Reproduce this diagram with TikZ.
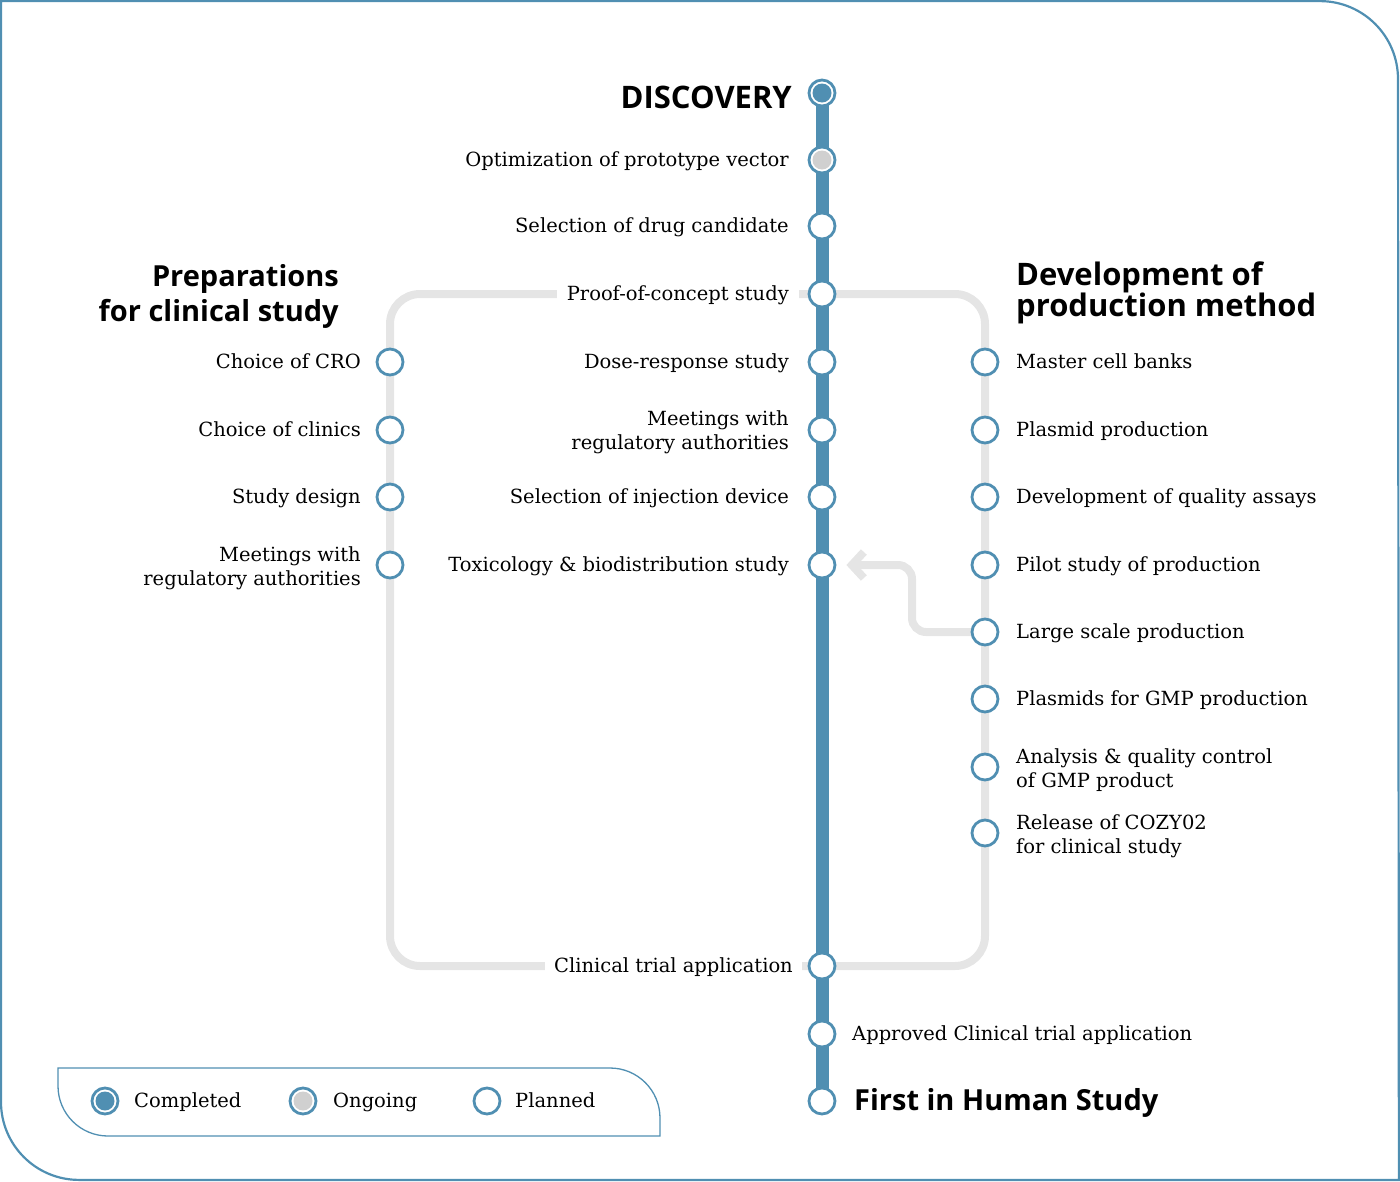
\documentclass[tikz,border=0pt]{standalone}
\usepackage{fontspec}
\setmainfont{DejaVu Serif}
\newfontfamily\hfont{Open Sans}
\usetikzlibrary{arrows.meta,backgrounds,calc}
\definecolor{cblue}{RGB}{80,143,178}
\definecolor{lgray}{RGB}{229,229,229}
\definecolor{ogray}{RGB}{208,208,208}
\begin{document}
\begin{tikzpicture}[x=1pt,y=-1pt,
  planned/.style={circle,draw=cblue,line width=2.8pt,fill=white,minimum size=26pt,inner sep=0pt},
  done/.style={planned,path picture={\fill[cblue] (path picture bounding box.center) circle (9.5pt);}},
  ongoing/.style={planned,path picture={\fill[ogray] (path picture bounding box.center) circle (9.5pt);}},
  lbl/.style={inner sep=0pt,font=\fontsize{19.5}{24}\selectfont},
  hd/.style={inner sep=0pt,font=\hfont\bfseries\fontsize{29}{35}\selectfont},
  gl/.style={draw=lgray,line width=8pt},
  bl/.style={draw=cblue,line width=13pt},
  frame/.style={draw=cblue,line width=2.2pt},
]
\useasboundingbox (0,0) rectangle (1400,1181);
\draw[frame] (1.1,1.1) -- (1320,1.1) arc[start angle=90,end angle=0,radius=78pt] -- (1398.9,1179.9) -- (79,1179.9) arc[start angle=270,end angle=180,radius=78pt] -- cycle;
% main line stops
\node[done] (d1) at (822,93) {};
\node[ongoing] (d2) at (822,160) {};
\node[planned] (d3) at (822,226) {};
\node[planned] (d4) at (822,294) {};
\node[planned] (d5) at (822,362) {};
\node[planned] (d6) at (822,430) {};
\node[planned] (d7) at (822,497) {};
\node[planned] (d8) at (822,565) {};
\node[planned] (d9) at (822,966) {};
\node[planned] (d10) at (822,1034) {};
\node[planned] (d11) at (822,1101) {};
% left stops
\node[planned] (l1) at (390,362) {};
\node[planned] (l2) at (390,430) {};
\node[planned] (l3) at (390,497) {};
\node[planned] (l4) at (390,565) {};
% right stops
\node[planned] (r1) at (985,362) {};
\node[planned] (r2) at (985,430) {};
\node[planned] (r3) at (985,497) {};
\node[planned] (r4) at (985,565) {};
\node[planned] (r5) at (985,632) {};
\node[planned] (r6) at (985,699) {};
\node[planned] (r7) at (985,767) {};
\node[planned] (r8) at (985,833) {};
% labels main
\node[hd,anchor=east,font=\hfont\bfseries\fontsize{31}{35}\selectfont] (t1) at (792,97) {DISCOVERY};
\node[lbl,anchor=mid east] (t2) at (789,164) {Optimization of prototype vector};
\node[lbl,anchor=mid east] (t3) at (789,230) {Selection of drug candidate};
\node[lbl,anchor=mid east,fill=white,inner xsep=10pt] (t4) at (799,298) {Proof-of-concept study};
\node[lbl,anchor=mid east] (t5) at (789,366) {Dose-response study};
\node[lbl,anchor=east,align=right] (t6) at (789,432) {Meetings with\\regulatory authorities};
\node[lbl,anchor=mid east] (t7) at (789,501) {Selection of injection device};
\node[lbl,anchor=mid east] (t8) at (789,569) {Toxicology \& biodistribution study};
\node[lbl,anchor=mid east,fill=white,inner xsep=9pt] (t9) at (802,970) {Clinical trial application};
\node[lbl,anchor=mid west] (t10) at (852,1038) {Approved Clinical trial application};
\node[hd,anchor=west] (t11) at (854,1103) {First in Human Study};
% labels left
\node[lbl,anchor=mid east] (u1) at (361,366) {Choice of CRO};
\node[lbl,anchor=mid east] (u2) at (361,434) {Choice of clinics};
\node[lbl,anchor=mid east] (u3) at (361,501) {Study design};
\node[lbl,anchor=east,align=right] (u4) at (361,568) {Meetings with\\regulatory authorities};
% labels right
\node[lbl,anchor=mid west] (v1) at (1016,366) {Master cell banks};
\node[lbl,anchor=mid west] (v2) at (1016,434) {Plasmid production};
\node[lbl,anchor=mid west] (v3) at (1016,501) {Development of quality assays};
\node[lbl,anchor=mid west] (v4) at (1016,569) {Pilot study of production};
\node[lbl,anchor=mid west] (v5) at (1016,636) {Large scale production};
\node[lbl,anchor=mid west] (v6) at (1016,703) {Plasmids for GMP production};
\node[lbl,anchor=west,align=left] (v7) at (1016,770) {Analysis \& quality control\\of GMP product};
\node[lbl,anchor=west,align=left] (v8) at (1016,836) {Release of COZY02\\for clinical study};
% headings
\node[hd,anchor=east,align=right] (h1) at (339,296) {Preparations\\for clinical study};
\node[hd,anchor=west,align=left,font=\hfont\bfseries\fontsize{31}{31}\selectfont] (h2) at (1016,293) {Development of\\production method};
% legend
\draw[cblue,line width=1.3pt] (58,1068) -- (610,1068) arc[start angle=90,end angle=0,radius=50pt] -- (660,1136) -- (108,1136) arc[start angle=270,end angle=180,radius=50pt] -- cycle;
\node[done] (g1) at (105,1101) {};
\node[ongoing] (g2) at (303,1101) {};
\node[planned] (g3) at (487,1101) {};
\node[lbl,anchor=mid west] (gt1) at (134,1105) {Completed};
\node[lbl,anchor=mid west] (gt2) at (333,1105) {Ongoing};
\node[lbl,anchor=mid west] (gt3) at (515,1105) {Planned};
% lines
\begin{pgfonlayer}{background}
\draw[gl,rounded corners=30pt] (d4.center) -- (d4.center -| l1.center) -- (d9.center -| l1.center) -- (d9.center);
\draw[gl,rounded corners=30pt] (d4.center) -- (d4.center -| r1.center) -- (d9.center -| r1.center) -- (d9.center);
\draw[gl,rounded corners=14pt,-{Straight Barb[length=12pt,width=26pt]}] (r5.center) -- ($(r5.center)+(-73,0)$) -- ($(r5.center)+(-73,-67)$) -- ([xshift=10pt]d8.east);
\draw[bl] (d1.center) -- (d11.center);
\end{pgfonlayer}
\end{tikzpicture}
\end{document}
